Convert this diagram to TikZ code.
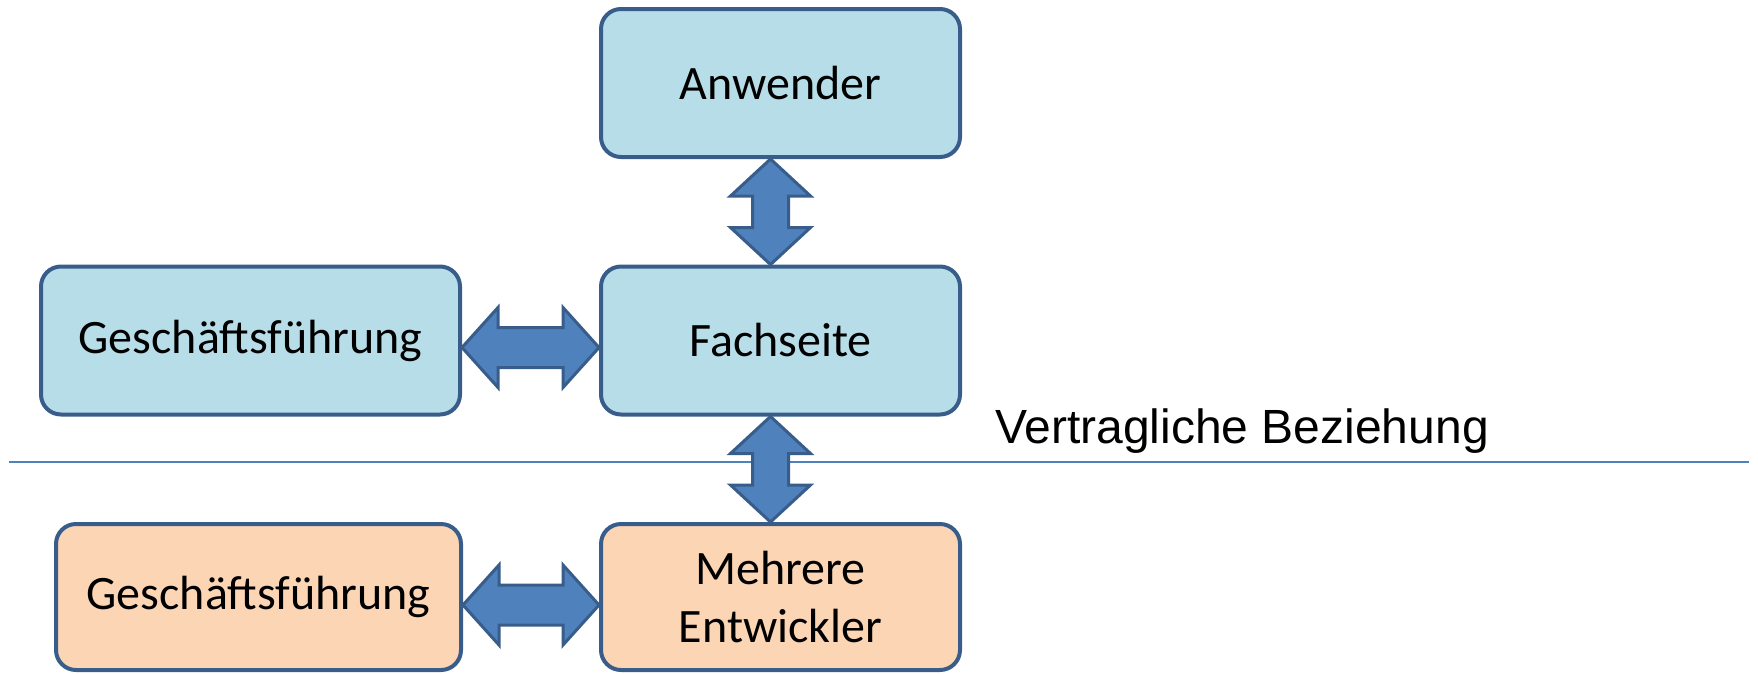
\documentclass[tikz,border=0pt]{standalone}
\usepackage{fontspec}
\setmainfont{Carlito}
\newfontfamily\arialfont{Liberation Sans}
\usetikzlibrary{calc}
\definecolor{boxline}{HTML}{385D8A}
\definecolor{boxblue}{HTML}{B7DEE8}
\definecolor{boxorange}{HTML}{FCD5B5}
\definecolor{arrowblue}{HTML}{4F81BD}
\tikzset{
  box/.style={draw=boxline, line width=4pt, rounded corners=20pt,
    minimum width=359pt, minimum height=148pt, inner sep=0pt, align=center,
    font=\fontsize{48}{57.6}\selectfont},
  bluebox/.style={box, fill=boxblue},
  orangebox/.style={box, fill=boxorange},
  bigarrow/.style={draw=boxline, fill=arrowblue, line width=3pt, line join=miter},
  sepline/.style={draw=arrowblue, line width=2pt},
  labeltext/.style={font=\arialfont\fontsize{48}{57.6}\selectfont, inner sep=0pt, anchor=base west}
}
\newcommand\vdarrow[2]{%
  \draw[bigarrow] let \p1=(#1), \p2=(#2) in
    (\p1) -- (\x1+40pt,\y1-37pt) -- (\x1+18pt,\y1-37pt) -- (\x1+18pt,\y2+37pt)
    -- (\x1+40pt,\y2+37pt) -- (\x1,\y2) -- (\x1-40pt,\y2+37pt) -- (\x1-18pt,\y2+37pt)
    -- (\x1-18pt,\y1-37pt) -- (\x1-40pt,\y1-37pt) -- cycle;}
\newcommand\hdarrow[2]{%
  \draw[bigarrow] let \p1=(#1), \p2=(#2) in
    (\p1) -- (\x1+36pt,\y1+40pt) -- (\x1+36pt,\y1+20pt) -- (\x2-36pt,\y1+20pt)
    -- (\x2-36pt,\y1+40pt) -- (\x2,\y1) -- (\x2-36pt,\y1-40pt) -- (\x2-36pt,\y1-20pt)
    -- (\x1+36pt,\y1-20pt) -- (\x1+36pt,\y1-40pt) -- cycle;}
\begin{document}
\begin{tikzpicture}[x=1pt,y=-1pt]
  \useasboundingbox (0,0) rectangle (1758,673);
  % separator line and label
  \coordinate (lineL) at (9,462);
  \coordinate (lineR) at (1749,462);
  \draw[sepline] (lineL) -- (lineR);
  \node[labeltext] (vb) at (995,443) {Vertragliche Beziehung};
  % boxes
  \node[bluebox] (anw) at (780.5,83) {Anwender};
  \node[bluebox] (fach) at (780.5,340.5) {Fachseite};
  \node[bluebox, minimum width=419pt] (gf1) at (250.5,340.5) {Geschäftsführung};
  \node[orangebox, minimum width=405pt, minimum height=146pt] (gf2) at (258.5,597) {Geschäftsführung};
  \node[orangebox, minimum height=146pt] (mehr) at (780.5,597) {Mehrere\\Entwickler};
  % arrows
  \vdarrow{$(anw.south)+(-10,0)$}{$(fach.north)+(-10,0)$}
  \vdarrow{$(fach.south)+(-10,0)$}{$(mehr.north)+(-10,0)$}
  \hdarrow{$(gf1.east)+(0,7)$}{$(fach.west)+(0,7)$}
  \hdarrow{$(gf2.east)+(0,8)$}{$(mehr.west)+(0,8)$}
\end{tikzpicture}
\end{document}
